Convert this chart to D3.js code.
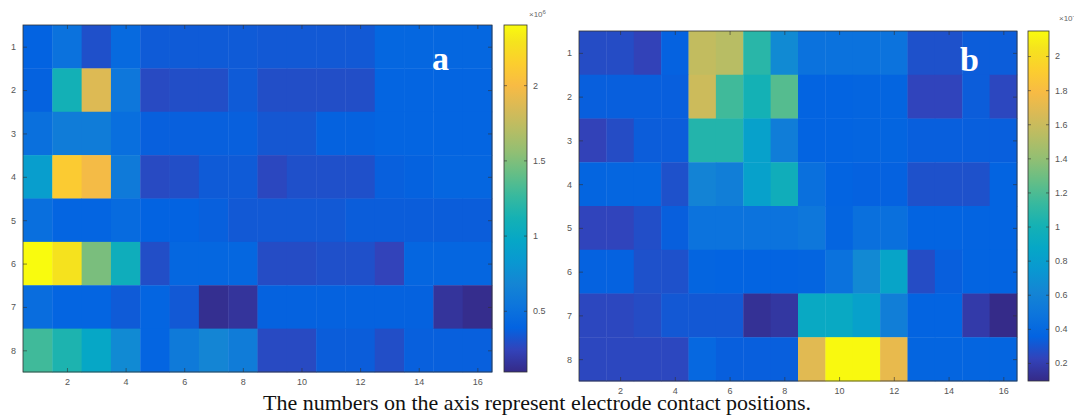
<!DOCTYPE html>
<html>
<head>
<meta charset="utf-8">
<script src="https://cdn.jsdelivr.net/npm/d3@7"></script>
<style>
  body { margin: 0; background: #fff; }
  .tick text { font-family: "Liberation Sans", Arial, sans-serif; font-size: 9px; fill: #555; }
  .tick line { stroke: #333; stroke-width: 0.6; }
</style>
</head>
<body>
<div id="chart"></div>
<script>
// electrode contact grid, 8 rows x 16 columns (panel a, x10^6)
var rowsA = [
  [0.39, 0.51, 0.30, 0.44, 0.35, 0.35, 0.35, 0.35, 0.34, 0.34, 0.34, 0.34, 0.42, 0.42, 0.42, 0.42],
  [0.38, 1.10, 1.87, 0.55, 0.27, 0.29, 0.29, 0.35, 0.29, 0.29, 0.29, 0.29, 0.40, 0.40, 0.40, 0.40],
  [0.49, 0.60, 0.60, 0.48, 0.37, 0.37, 0.37, 0.37, 0.33, 0.33, 0.38, 0.38, 0.40, 0.40, 0.40, 0.40],
  [0.88, 2.12, 1.98, 0.58, 0.27, 0.29, 0.35, 0.35, 0.26, 0.30, 0.30, 0.30, 0.37, 0.38, 0.41, 0.41],
  [0.48, 0.40, 0.40, 0.45, 0.39, 0.39, 0.37, 0.34, 0.34, 0.34, 0.34, 0.36, 0.36, 0.36, 0.36, 0.36],
  [2.40, 2.28, 1.48, 1.06, 0.29, 0.42, 0.42, 0.42, 0.28, 0.28, 0.30, 0.30, 0.24, 0.41, 0.41, 0.41],
  [0.47, 0.40, 0.40, 0.35, 0.40, 0.34, 0.12, 0.15, 0.38, 0.38, 0.38, 0.38, 0.38, 0.38, 0.15, 0.11],
  [1.29, 1.15, 0.97, 0.72, 0.40, 0.58, 0.68, 0.60, 0.27, 0.27, 0.36, 0.36, 0.29, 0.37, 0.37, 0.37]
];

// panel b
var rowsB = [
  [0.26, 0.26, 0.22, 0.35, 1.57, 1.53, 1.08, 0.65, 0.46, 0.46, 0.46, 0.47, 0.28, 0.28, 0.33, 0.33],
  [0.34, 0.34, 0.34, 0.34, 1.61, 1.16, 1.00, 1.22, 0.36, 0.36, 0.37, 0.37, 0.23, 0.23, 0.33, 0.24],
  [0.22, 0.26, 0.33, 0.33, 1.06, 1.06, 0.82, 0.55, 0.36, 0.36, 0.37, 0.37, 0.34, 0.34, 0.34, 0.34],
  [0.37, 0.38, 0.38, 0.28, 0.60, 0.56, 0.82, 0.96, 0.45, 0.36, 0.35, 0.35, 0.28, 0.28, 0.28, 0.36],
  [0.23, 0.23, 0.27, 0.34, 0.47, 0.47, 0.47, 0.47, 0.50, 0.37, 0.45, 0.45, 0.36, 0.36, 0.36, 0.36],
  [0.35, 0.35, 0.28, 0.28, 0.37, 0.36, 0.36, 0.36, 0.37, 0.46, 0.64, 0.85, 0.26, 0.34, 0.36, 0.36],
  [0.24, 0.24, 0.26, 0.31, 0.31, 0.31, 0.13, 0.16, 0.90, 0.90, 0.82, 0.56, 0.36, 0.36, 0.18, 0.10],
  [0.24, 0.24, 0.24, 0.24, 0.39, 0.34, 0.34, 0.34, 1.69, 2.14, 2.14, 1.72, 0.37, 0.37, 0.37, 0.37]
];

var xTicks = [2, 4, 6, 8, 10, 12, 14, 16];
var yTicks = [1, 2, 3, 4, 5, 6, 7, 8];
var colorTicksA = [0.5, 1, 1.5, 2];
var colorTicksB = [0.2, 0.4, 0.6, 0.8, 1, 1.2, 1.4, 1.6, 1.8, 2];
var rangeA = [0.093, 2.4];
var rangeB = [0.094, 2.147];

// parula colormap stops
var parulaColors = ["#352a87", "#3243ba", "#0363e1", "#0d75dc", "#1485d4", "#0998d1",
  "#06a7c6", "#15b1b4", "#38b99e", "#65be86", "#92bf73", "#b7bd64", "#d9ba56",
  "#f8bb44", "#fcce2e", "#f5e41d", "#f9fb0e"];
var parulaPos = [0, 4, 8, 12, 16, 20, 24, 28, 32, 36, 40, 44, 48, 52, 56, 60, 63].map(d => d / 63);
var parula = d3.scaleLinear().domain(parulaPos).range(parulaColors).interpolate(d3.interpolateRgb).clamp(true);

var svgWidth = 1074, svgHeight = 416;

var svg = d3.select("#chart")
    .append("svg")
    .attr("width", svgWidth)
    .attr("height", svgHeight);

var defs = svg.append("defs");

function drawPanel(rows, range, cTicks, box, bar, letter, expo) {
    var g = svg.append("g");

    var x = d3.scaleLinear().domain([0.5, 16.5]).range([box.x0, box.x1]);
    var y = d3.scaleLinear().domain([0.5, 8.5]).range([box.y0, box.y1]);
    var norm = d3.scaleLinear().domain(range).range([0, 1]);

    var cells = [];
    rows.forEach((row, i) => row.forEach((v, j) => cells.push({ row: i + 1, col: j + 1, value: v })));

    g.selectAll("rect.cell")
        .data(cells)
        .enter()
        .append("rect")
        .attr("class", "cell")
        .attr("x", d => x(d.col - 0.5))
        .attr("y", d => y(d.row - 0.5))
        .attr("width", d => x(d.col + 0.5) - x(d.col - 0.5) + 0.4)
        .attr("height", d => y(d.row + 0.5) - y(d.row - 0.5) + 0.4)
        .attr("fill", d => parula(norm(d.value)));

    // axes, ticks pointing inward like matlab
    g.append("g")
        .attr("transform", "translate(0," + box.y1 + ")")
        .call(d3.axisBottom(x).tickValues(xTicks).tickSizeInner(-4).tickSizeOuter(0).tickPadding(7))
        .call(a => a.select(".domain").remove());
    g.append("g")
        .attr("transform", "translate(0," + box.y0 + ")")
        .call(d3.axisTop(x).tickValues(xTicks).tickSizeInner(-4).tickSizeOuter(0).tickFormat(""))
        .call(a => a.select(".domain").remove());
    g.append("g")
        .attr("transform", "translate(" + box.x0 + ",0)")
        .call(d3.axisLeft(y).tickValues(yTicks).tickSizeInner(-4).tickSizeOuter(0).tickPadding(7))
        .call(a => a.select(".domain").remove());
    g.append("g")
        .attr("transform", "translate(" + box.x1 + ",0)")
        .call(d3.axisRight(y).tickValues(yTicks).tickSizeInner(-4).tickSizeOuter(0).tickFormat(""))
        .call(a => a.select(".domain").remove());

    g.append("rect")
        .attr("x", box.x0).attr("y", box.y0)
        .attr("width", box.x1 - box.x0).attr("height", box.y1 - box.y0)
        .attr("fill", "none").attr("stroke", "#333").attr("stroke-width", 0.8);

    // colorbar
    var cScale = d3.scaleLinear().domain(range).range([bar.y1, bar.y0]);
    var gradId = "grad" + letter;
    var grad = defs.append("linearGradient")
        .attr("id", gradId)
        .attr("x1", 0).attr("y1", 1).attr("x2", 0).attr("y2", 0);
    grad.selectAll("stop")
        .data(parulaPos)
        .enter()
        .append("stop")
        .attr("offset", d => d)
        .attr("stop-color", d => parula(d));

    g.append("rect")
        .attr("x", bar.x0).attr("y", bar.y0)
        .attr("width", bar.x1 - bar.x0).attr("height", bar.y1 - bar.y0)
        .attr("fill", "url(#" + gradId + ")")
        .attr("stroke", "#333").attr("stroke-width", 0.8);

    g.append("g")
        .attr("transform", "translate(" + bar.x1 + ",0)")
        .call(d3.axisRight(cScale).tickValues(cTicks).tickSizeInner(-3).tickSizeOuter(0).tickPadding(6).tickFormat(d3.format("~g")))
        .call(a => a.select(".domain").remove());
    g.append("g")
        .attr("transform", "translate(" + bar.x0 + ",0)")
        .call(d3.axisLeft(cScale).tickValues(cTicks).tickSizeInner(-3).tickSizeOuter(0).tickFormat(""))
        .call(a => a.select(".domain").remove());

    var ex = g.append("text")
        .attr("x", expo.x).attr("y", expo.y)
        .attr("font-family", "Liberation Sans, Arial, sans-serif")
        .attr("font-size", "8px")
        .attr("fill", "#666")
        .text("\u00d710");
    ex.append("tspan")
        .attr("dy", "-3")
        .attr("font-size", "6px")
        .text(expo.power);

    // panel letter
    g.append("text")
        .attr("x", letter == "a" ? box.x1 - 60 : box.x1 - 57)
        .attr("y", letter == "a" ? 70 : 71)
        .attr("font-family", "Liberation Serif, Times New Roman, serif")
        .attr("font-weight", "bold")
        .attr("font-size", "34px")
        .attr("fill", "#fff")
        .text(letter);
}

drawPanel(rowsA, rangeA, colorTicksA,
    { x0: 23, x1: 492, y0: 25, y1: 372 },
    { x0: 504, x1: 527, y0: 25, y1: 372 },
    "a", { x: 529, y: 17, power: "6" });

drawPanel(rowsB, rangeB, colorTicksB,
    { x0: 579, x1: 1017, y0: 31, y1: 381 },
    { x0: 1028, x1: 1049, y0: 31, y1: 381 },
    "b", { x: 1059, y: 21, power: "-5" });

// caption
svg.append("text")
    .attr("x", 537)
    .attr("y", 410)
    .attr("text-anchor", "middle")
    .attr("font-family", "Liberation Serif, Times New Roman, serif")
    .attr("font-size", "22px")
    .attr("fill", "#111")
    .text("The numbers on the axis represent electrode contact positions.");
</script>
</body>
</html>
